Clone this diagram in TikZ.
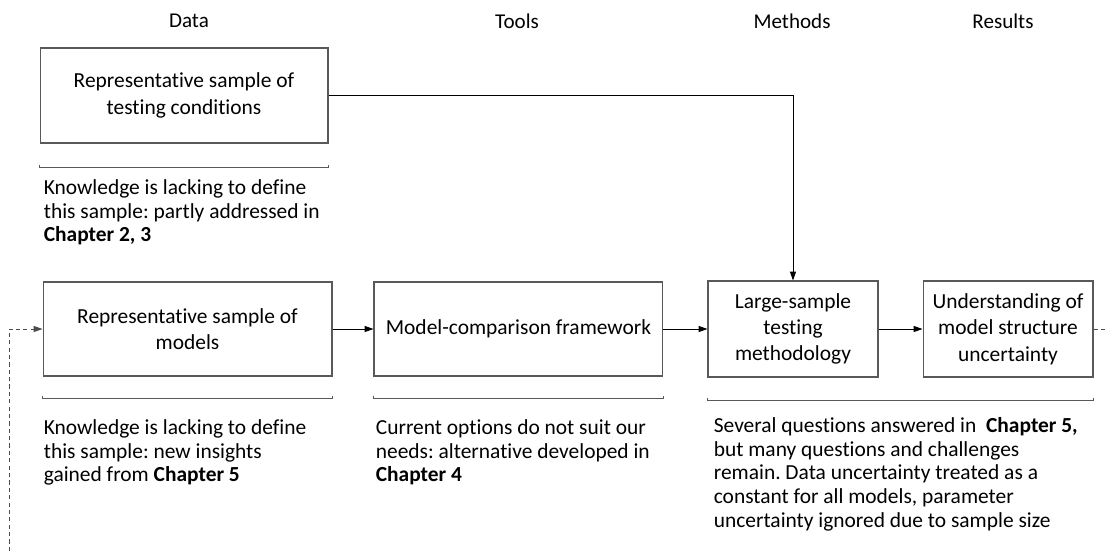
\documentclass[tikz,border=0pt]{standalone}
\usepackage{fontspec}
\setmainfont{Carlito}[Ligatures=NoCommon]
\usetikzlibrary{positioning,arrows.meta}
\frenchspacing

\begin{document}
\begin{tikzpicture}[x=0.02cm, y=-0.02cm,
  box/.style={draw=black!65, line width=0.6pt, align=center,
    font=\fontsize{12.2}{15}\selectfont, inner sep=2pt},
  note/.style={anchor=north west, align=left, inner sep=0pt,
    font=\fontsize{12.2}{13.4}\selectfont},
  head/.style={font=\fontsize{12}{13}\selectfont},
  brk/.style={draw=black!65, line width=0.6pt},
  ar/.style={-{Triangle[length=5pt,width=3.4pt]}, line width=0.5pt},
  fb/.style={draw=black!70, line width=0.5pt, dash pattern=on 2.4pt off 1.8pt}
]
\useasboundingbox (0,0) rectangle (1105,551);

% column headings
\node[head] (hdata) at (189,21) {Data};
\node[head] (htools) at (517,21) {Tools};
\node[head] (hmeth) at (792,21) {Methods};
\node[head] (hres) at (1003,21) {Results};

% main row
\node[box, minimum width=5.78cm, minimum height=1.88cm] (models) at (187.5,329)
  {Representative sample of\\ models};
\node[box, minimum width=5.78cm, minimum height=1.88cm, right=0.82cm of models] (frame)
  {Model-comparison framework};
\node[box, minimum width=3.4cm, minimum height=1.92cm, right=0.88cm of frame] (meth)
  {Large-sample\\ testing\\ methodology};
\node[box, minimum width=3.4cm, minimum height=1.92cm, right=0.88cm of meth] (unc)
  {Understanding of\\ model structure\\ uncertainty};

% testing conditions
\node[box, minimum width=5.76cm, minimum height=1.9cm] (cond) at (184,95.5)
  {Representative sample of\\ testing conditions};

% brackets
\draw[brk] ([yshift=-0.42cm]cond.south west) -- ([yshift=-0.48cm]cond.south west)
  -- ([yshift=-0.48cm]cond.south east) -- ([yshift=-0.42cm]cond.south east);
\draw[brk] ([yshift=-0.38cm]models.south west) -- ([yshift=-0.44cm]models.south west)
  -- ([yshift=-0.44cm]models.south east) -- ([yshift=-0.38cm]models.south east);
\draw[brk] ([yshift=-0.38cm]frame.south west) -- ([yshift=-0.44cm]frame.south west)
  -- ([yshift=-0.44cm]frame.south east) -- ([yshift=-0.38cm]frame.south east);
\draw[brk] ([yshift=-0.40cm]meth.south west) -- ([yshift=-0.46cm]meth.south west)
  -- ([yshift=-0.46cm]unc.south east) -- ([yshift=-0.40cm]unc.south east);

% notes
\node[note] (condnote) at ([xshift=0.08cm, yshift=-0.72cm]cond.south west)
  {Knowledge is lacking to define\\ this sample: partly addressed in\\ \textbf{Chapter 2, 3}};
\node[note] (modnote) at ([xshift=0.02cm, yshift=-0.86cm]models.south west)
  {Knowledge is lacking to define\\ this sample: new insights\\ gained from \textbf{Chapter 5}};
\node[note] (framenote) at ([xshift=0.04cm, yshift=-0.86cm]frame.south west)
  {Current options do not suit our\\ needs: alternative developed in\\ \textbf{Chapter 4}};
\node[note] (methnote) at ([xshift=0.12cm, yshift=-0.80cm]meth.south west)
  {Several questions answered in~ \textbf{Chapter 5,}\\ but many questions and challenges\\
   remain. Data uncertainty treated as a\\ constant for all models, parameter\\
   uncertainty ignored due to sample size};

% flow
\draw[ar] (cond.east) -| (meth.north);
\draw[ar] (models) -- (frame);
\draw[ar] (frame) -- (meth);
\draw[ar] (meth) -- (unc);

% feedback loop
\coordinate (loopout) at (1105,329);
\coordinate (loopin) at (9,551);
\draw[fb] (unc.east) -- (loopout);
\draw[fb, ar] (loopin) |- (models.west);
\end{tikzpicture}
\end{document}
